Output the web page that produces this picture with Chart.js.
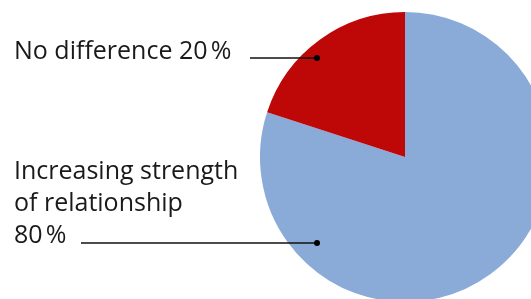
<!DOCTYPE html>
<html>
<head>
<meta charset="utf-8">
<script src="https://cdn.jsdelivr.net/npm/chart.js@4/dist/chart.umd.min.js"></script>
<style>
  html, body { margin: 0; padding: 0; background: #fff; }
  #wrap { position: relative; width: 531px; height: 299px; overflow: hidden; }
  #pie { position: absolute; left: 0; top: 0; }
</style>
</head>
<body>
<div id="wrap"><canvas id="pie" width="700" height="450"></canvas></div>
<script>
const categories = ['Increasing strength of relationship', 'No difference'];
const values = [80, 20];
const labelLines = [
    ['Increasing strength', 'of relationship', '80\u202F%'],
    ['No difference 20\u202F%']
];
const colors = ['#8AAAD8', '#BE0707'];

// labels with leader lines, drawn left of the pie
const leaders = {
    id: 'leaders',
    afterDraw(chart) {
        const c = chart.ctx;
        const arcs = chart.getDatasetMeta(0).data;
        const cx = arcs[0].x, cy = arcs[0].y;
        // dot offsets from pie centre, and where the text/line sit
        const spots = [
            { dx: -88, dy: 86, lineFrom: 81, base: [179, 211, 243] },
            { dx: -88, dy: -99, lineFrom: 250, base: [59] }
        ];
        c.save();
        c.font = '25px "Open Sans"';
        c.textBaseline = 'alphabetic';
        spots.forEach((s, i) => {
            c.fillStyle = '#1a1a1a';
            labelLines[i].forEach((t, j) => c.fillText(t, 14, s.base[j]));
            const px = cx + s.dx, py = cy + s.dy;
            c.strokeStyle = '#111';
            c.lineWidth = 1.3;
            c.beginPath();
            c.moveTo(s.lineFrom, py);
            c.lineTo(px, py);
            c.stroke();
            c.beginPath();
            c.arc(px, py, 3, 0, Math.PI * 2);
            c.fillStyle = '#000';
            c.fill();
        });
        c.restore();
    }
};

new Chart(document.getElementById('pie'), {
    type: 'pie',
    data: {
        labels: categories,
        datasets: [{
            data: values,
            backgroundColor: colors,
            borderWidth: 0
        }]
    },
    options: {
        responsive: false,
        animation: false,
        layout: { padding: { left: 260, top: 12, right: 150, bottom: 148 } },
        plugins: {
            legend: { display: false },
            tooltip: { enabled: false }
        }
    },
    plugins: [leaders]
});
</script>
</body>
</html>
